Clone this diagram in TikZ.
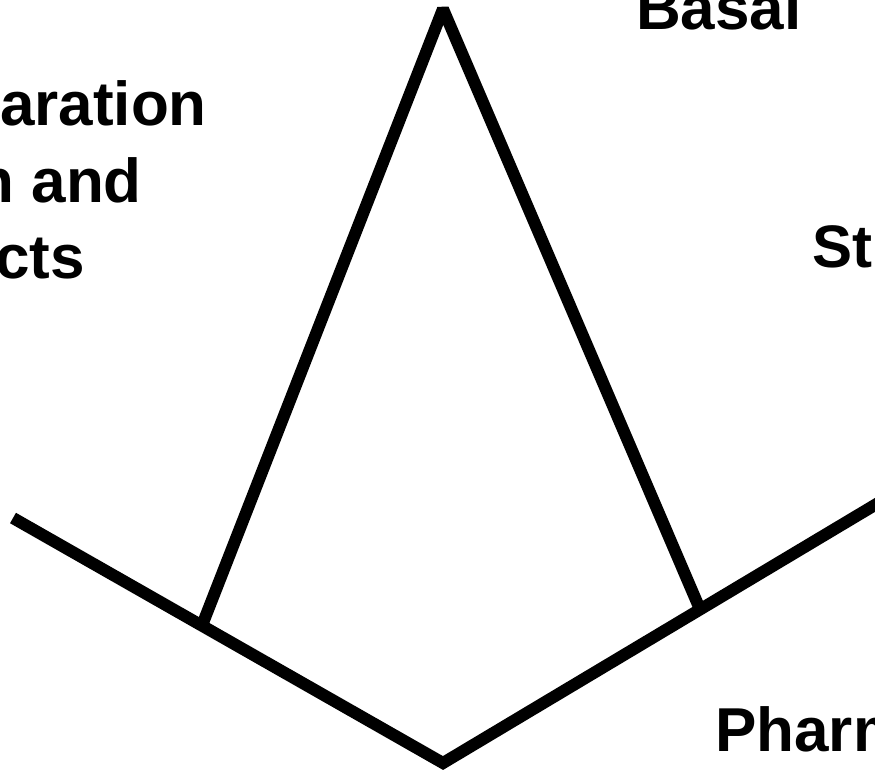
\documentclass[tikz,border=0pt]{standalone}
\usepackage{fontspec}
\setmainfont{Liberation Sans}
\begin{document}
\begin{tikzpicture}[x=1pt,y=-1pt,
  ln/.style={line width=12pt,line cap=butt},
  lbl/.style={inner sep=0pt,font=\bfseries\fontsize{62}{75}\selectfont}]
\useasboundingbox (0,0) rectangle (875,774);
\clip (0,0) rectangle (875,774);
\fill[white] (0,0) rectangle (875,774);
\coordinate (L) at (13,518);
\coordinate (B) at (443,763);
\coordinate (R) at (905,487);
\coordinate (A) at (443,9);
\coordinate (J1) at (201,628);
\coordinate (J2) at (702,614);
\draw[ln,line join=miter] (L) -- (B) -- (R);
\draw[ln,line join=bevel] (J1) -- (A) -- (J2);
\node[lbl,anchor=base east] (t1) at (207,125) {aration};
\node[lbl,anchor=base east] (t2) at (142,202) {n and};
\node[lbl,anchor=base east] (t3) at (85,278) {cts};
\node[lbl,anchor=base west] (t4) at (636,29) {Basal};
\node[lbl,anchor=base west,font=\bfseries\fontsize{60}{72}\selectfont] (t5) at (812,267) {St};
\node[lbl,anchor=base west] (t6) at (715,751) {Pharm};
\end{tikzpicture}
\end{document}
